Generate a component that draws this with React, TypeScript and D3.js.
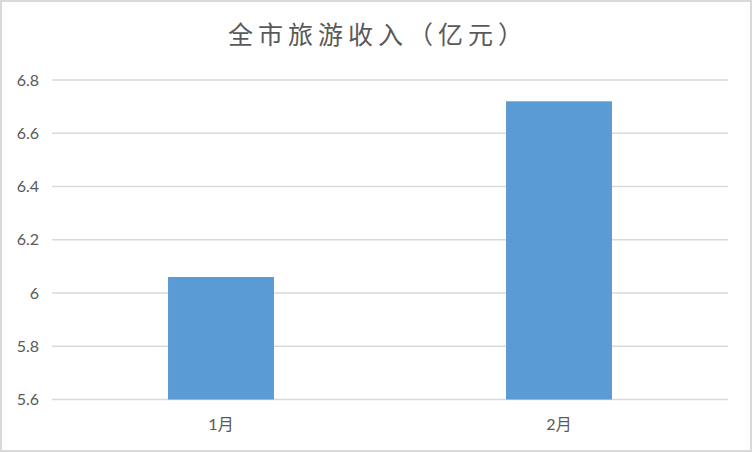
import React from "react";
import * as d3 from "d3";

const categories = ["1月", "2月"];
const values = [6.06, 6.72];
const yTicks = [5.6, 5.8, 6.0, 6.2, 6.4, 6.6, 6.8];
const yTickLabels = ["5.6", "5.8", "6", "6.2", "6.4", "6.6", "6.8"];
const title = "全市旅游收入（亿元）";

const W = 752;
const H = 452;

export default function App() {
  const x = d3
    .scaleBand<string>()
    .domain(categories)
    .range([52, 728])
    .paddingInner(2.19 / 3.19)
    .paddingOuter(2.19 / 3.19 / 2);
  const y = d3.scaleLinear().domain([5.6, 6.8]).range([399.5, 80]);
  const font = "Lato, 'Noto Sans CJK SC', sans-serif";
  return (
    <svg
      width={W}
      height={H}
      style={{ position: "absolute", left: 0, top: 0, background: "#fff" }}
    >
      <rect x={0} y={0} width={W} height={H} fill="#fff" />
      <rect x={1} y={1} width={W - 2} height={H - 2} fill="none" stroke="#d9d9d9" strokeWidth={2} />
      <text
        x={378}
        y={44}
        textAnchor="middle"
        fontFamily="'Noto Sans CJK SC', sans-serif"
        fontSize={25}
        letterSpacing={5}
        fill="#595959"
      >
        {title}
      </text>
      {yTicks.map((t, i) => (
        <g key={i}>
          <line x1={52} x2={728} y1={y(t)} y2={y(t)} stroke="#d9d9d9" strokeWidth={1.6} />
          <text
            x={39}
            y={y(t)}
            dy="0.35em"
            textAnchor="end"
            fontFamily={font}
            fontSize={16}
            fill="#595959"
          >
            {yTickLabels[i]}
          </text>
        </g>
      ))}
      {categories.map((c, i) => (
        <g key={c}>
          <rect
            x={x(c)}
            y={y(values[i])}
            width={x.bandwidth()}
            height={y(5.6) - y(values[i])}
            fill="#5b9bd5"
          />
          <text
            x={(x(c) as number) + x.bandwidth() / 2}
            y={430}
            textAnchor="middle"
            fontFamily={font}
            fontSize={16}
            fill="#595959"
          >
            {c}
          </text>
        </g>
      ))}
    </svg>
  );
}
